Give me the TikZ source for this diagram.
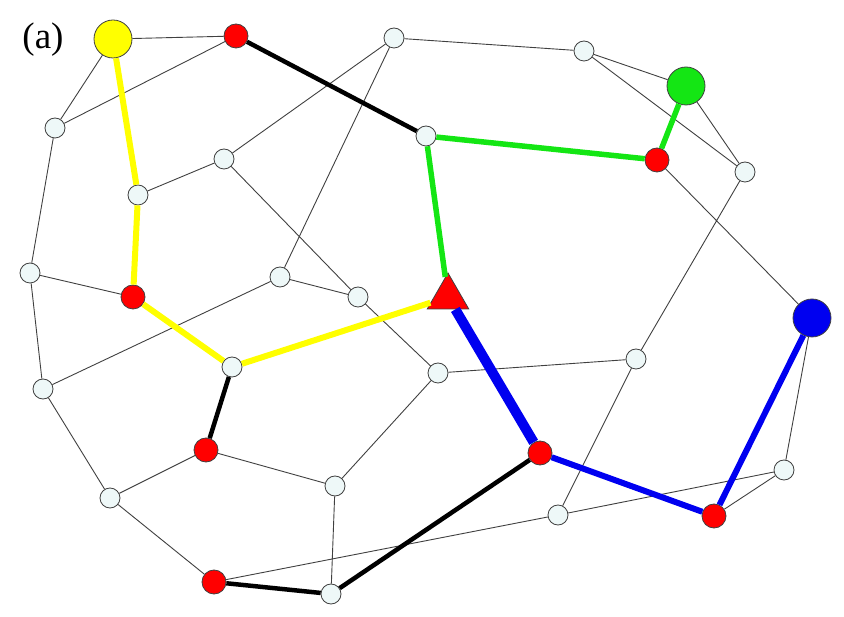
\documentclass[tikz,border=0pt]{standalone}
\usepackage{fontspec}
\setmainfont{Liberation Serif}
\usetikzlibrary{shapes.geometric}
\definecolor{nfill}{HTML}{EEF8F8}
\definecolor{nline}{HTML}{404040}
\definecolor{ygreen}{HTML}{14E614}
\definecolor{yyellow}{HTML}{FFFF00}
\definecolor{bblue}{HTML}{0000F0}
\definecolor{rred}{HTML}{FF0000}
\begin{document}
\begin{tikzpicture}[x=1pt,y=-1pt,
  wn/.style={circle,draw=nline,fill=nfill,minimum size=20pt,inner sep=0pt,line width=0.8pt},
  rn/.style={circle,draw=nline,fill=rred,minimum size=24pt,inner sep=0pt,line width=0.8pt},
  bign/.style={circle,draw=nline,minimum size=38pt,inner sep=0pt,line width=0.8pt},
  tri/.style={regular polygon,regular polygon sides=3,draw=nline,fill=rred,minimum size=48pt,inner sep=0pt,line width=0.8pt},
  thin/.style={draw=nline,line width=0.9pt},
  blk/.style={draw=black,line width=4.5pt},
  ylw/.style={draw=yyellow,line width=6pt},
  grn/.style={draw=ygreen,line width=5.5pt},
  blu/.style={draw=bblue,line width=6pt},
  blub/.style={draw=bblue,line width=10pt}]
\useasboundingbox (0,0) rectangle (844,617);
\node[font=\fontsize{37}{37}\selectfont] (lab) at (43,40) {(a)};
% nodes
\node[bign,fill=yyellow] (Y) at (113,39) {};
\node[rn] (R1) at (236,36) {};
\node[wn] (A) at (55,128) {};
\node[wn] (B) at (138,195) {};
\node[wn] (C) at (224,159) {};
\node[wn] (D) at (394,38) {};
\node[wn] (E) at (426,136) {};
\node[wn] (F) at (584,51) {};
\node[bign,fill=ygreen] (G) at (686,86) {};
\node[rn] (R2) at (657,160) {};
\node[wn] (H) at (745,172) {};
\node[wn] (I) at (30,273) {};
\node[rn] (R3) at (133,297) {};
\node[wn] (J) at (280,277) {};
\node[wn] (K) at (358,297) {};
\node[tri] (T) at (448,297) {};
\node[wn] (L) at (232,367) {};
\node[wn] (M) at (43,389) {};
\node[wn] (N) at (438,373) {};
\node[wn] (O) at (636,359) {};
\node[bign,fill=bblue] (Bl) at (812,318) {};
\node[rn] (R4) at (206,450) {};
\node[rn] (R5) at (540,453) {};
\node[wn] (P) at (110,498) {};
\node[wn] (Q) at (335,486) {};
\node[wn] (S) at (558,515) {};
\node[wn] (U) at (784,470) {};
\node[rn] (R6) at (714,516) {};
\node[rn] (R7) at (214,582) {};
\node[wn] (V) at (331,594) {};
% thin edges
\draw[thin] (Y)--(R1) (Y)--(A) (A)--(R1) (A)--(I) (I)--(M) (I)--(R3)
  (M)--(P) (M)--(J) (B)--(C) (C)--(D) (C)--(K) (D)--(J) (J)--(K)
  (K)--(N) (N)--(O) (N)--(Q) (D)--(F) (F)--(G) (F)--(H) (G)--(H)
  (R2)--(Bl) (H)--(O) (O)--(S) (Bl)--(U) (S)--(U) (U)--(R6)
  (R4)--(P) (R4)--(Q) (P)--(R7) (Q)--(V) (R7)--(S);
% paths
\draw[blk] (R1)--(E) (L)--(R4) (R7)--(V) (V)--(R5);
\draw[ylw] (Y)--(B) (B)--(R3) (R3)--(L) (L)--(T);
\draw[grn] (E)--(R2) (R2)--(G) (E)--(T);
\draw[blub] (T)--(R5);
\draw[blu] (R5)--(R6) (R6)--(Bl);
\end{tikzpicture}
\end{document}
